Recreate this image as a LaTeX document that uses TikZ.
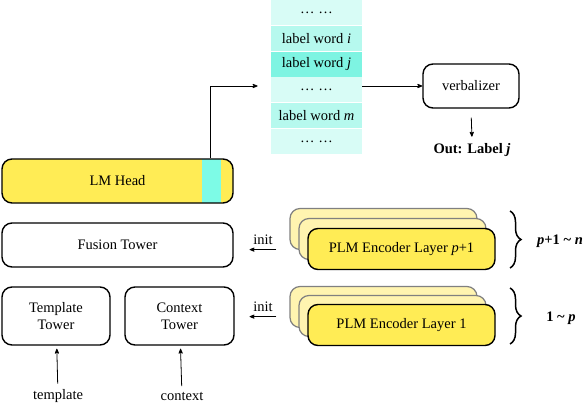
\documentclass[tikz,border=0pt]{standalone}
\usepackage{fontspec}
\setmainfont{Liberation Serif}
\usetikzlibrary{arrows,positioning,decorations.pathreplacing}

\definecolor{lmyellow}{HTML}{FFEC55}
\definecolor{backyellow}{HTML}{FFF4B0}
\definecolor{lmcyan}{HTML}{7DFBE6}
\definecolor{wordlight}{HTML}{D8FCF6}
\definecolor{wordmid}{HTML}{B6F9EE}
\definecolor{worddark}{HTML}{7EF4E2}

\begin{document}
\begin{tikzpicture}[x=1pt,y=-1pt,->,>=stealth',line width=0.8pt,
    font=\fontsize{14.5}{17}\selectfont,
    tower/.style={draw,rectangle,rounded corners=10pt,line width=1.4pt,
        align=center,inner sep=0pt},
    word/.style={rectangle,fill=wordlight,minimum width=91pt,minimum height=25pt,
        inner sep=0pt},
    layer/.style={tower,fill=lmyellow,minimum width=187pt,minimum height=41pt},
    ghost/.style={tower,draw=black!50,fill=backyellow,line width=1.2pt,
        minimum width=187pt,minimum height=41pt},
    curly/.style={-,line width=1.5pt,decorate,decoration={brace,amplitude=11pt}}]

\useasboundingbox (0,0) rectangle (588,404);

% label words
\node[word] (w1) at (316.5,12.5) {\dots\ \dots};
\node[word,fill=wordmid,below=0pt of w1] (w2) {label word \textit{i}};
\node[word,fill=worddark,below=0pt of w2] (w3) {label word \textit{j}};
\node[word,below=0pt of w3] (w4) {\dots\ \dots};
\node[word,fill=wordmid,below=0pt of w4] (w5) {label word \textit{m}};
\node[word,below=0pt of w5] (w6) {\dots\ \dots};

\node[tower,minimum width=96pt,minimum height=44pt] (verb) at (471,86) {verbalizer};
\node (out) at (472,150) {\textbf{Out: Label \textit{j}}};

% towers
\node[tower,fill=lmyellow,minimum width=231pt,minimum height=44pt,
    path picture={\fill[lmcyan,sharp corners] ([xshift=-31pt]path picture bounding box.north east)
        rectangle ([xshift=-12pt]path picture bounding box.south east);}]
    (lm) at (117.5,181) {LM Head};
\node[tower,minimum width=231pt,minimum height=44pt] (fusion) at (117.5,245) {Fusion Tower};
\node[tower,minimum width=108pt,minimum height=58pt] (tmpl) at (56,316) {Template\\Tower};
\node[tower,minimum width=109pt,minimum height=58pt] (ctx) at (179.5,316) {Context\\Tower};
\node (tin) at (58,396) {template};
\node (cin) at (182,396) {context};

% encoder stacks
\node[ghost] (eu3) at (383.5,229) {};
\node[ghost] (eu2) at (392.5,239) {};
\node[layer] (eu1) at (401.5,249) {PLM Encoder Layer \textit{p}+1};
\node[ghost] (el3) at (383.5,307) {};
\node[ghost] (el2) at (392.5,316) {};
\node[layer] (el1) at (401.5,325) {PLM Encoder Layer 1};

\node (iu) at (263,240) {init};
\node (il) at (263,307) {init};

\node (nu) at (560,241) {\textbf{\textit{p}+1 \textasciitilde\ \textit{n}}};
\node (nl) at (561,318) {\textbf{1 \textasciitilde\ \textit{p}}};

\draw[curly] (510,211) -- (510,268);
\draw[curly] (510,288) -- (510,344);

\draw ([xshift=-23pt]lm.north east) |- ([xshift=-13pt]w1.west |- verb.west);
\draw (verb.west -| w4.east) -- (verb.west);
\draw[shorten <=9pt,shorten >=3pt] (verb.south) -- (out.north);
\path[shorten >=3pt,shorten <=2pt]
(tin) edge (tmpl)
(cin) edge (ctx)
;
\draw ([yshift=-1pt]iu.south east) -- ([yshift=-1pt]iu.south west);
\draw ([yshift=-1pt]il.south east) -- ([yshift=-1pt]il.south west);

\end{tikzpicture}
\end{document}
